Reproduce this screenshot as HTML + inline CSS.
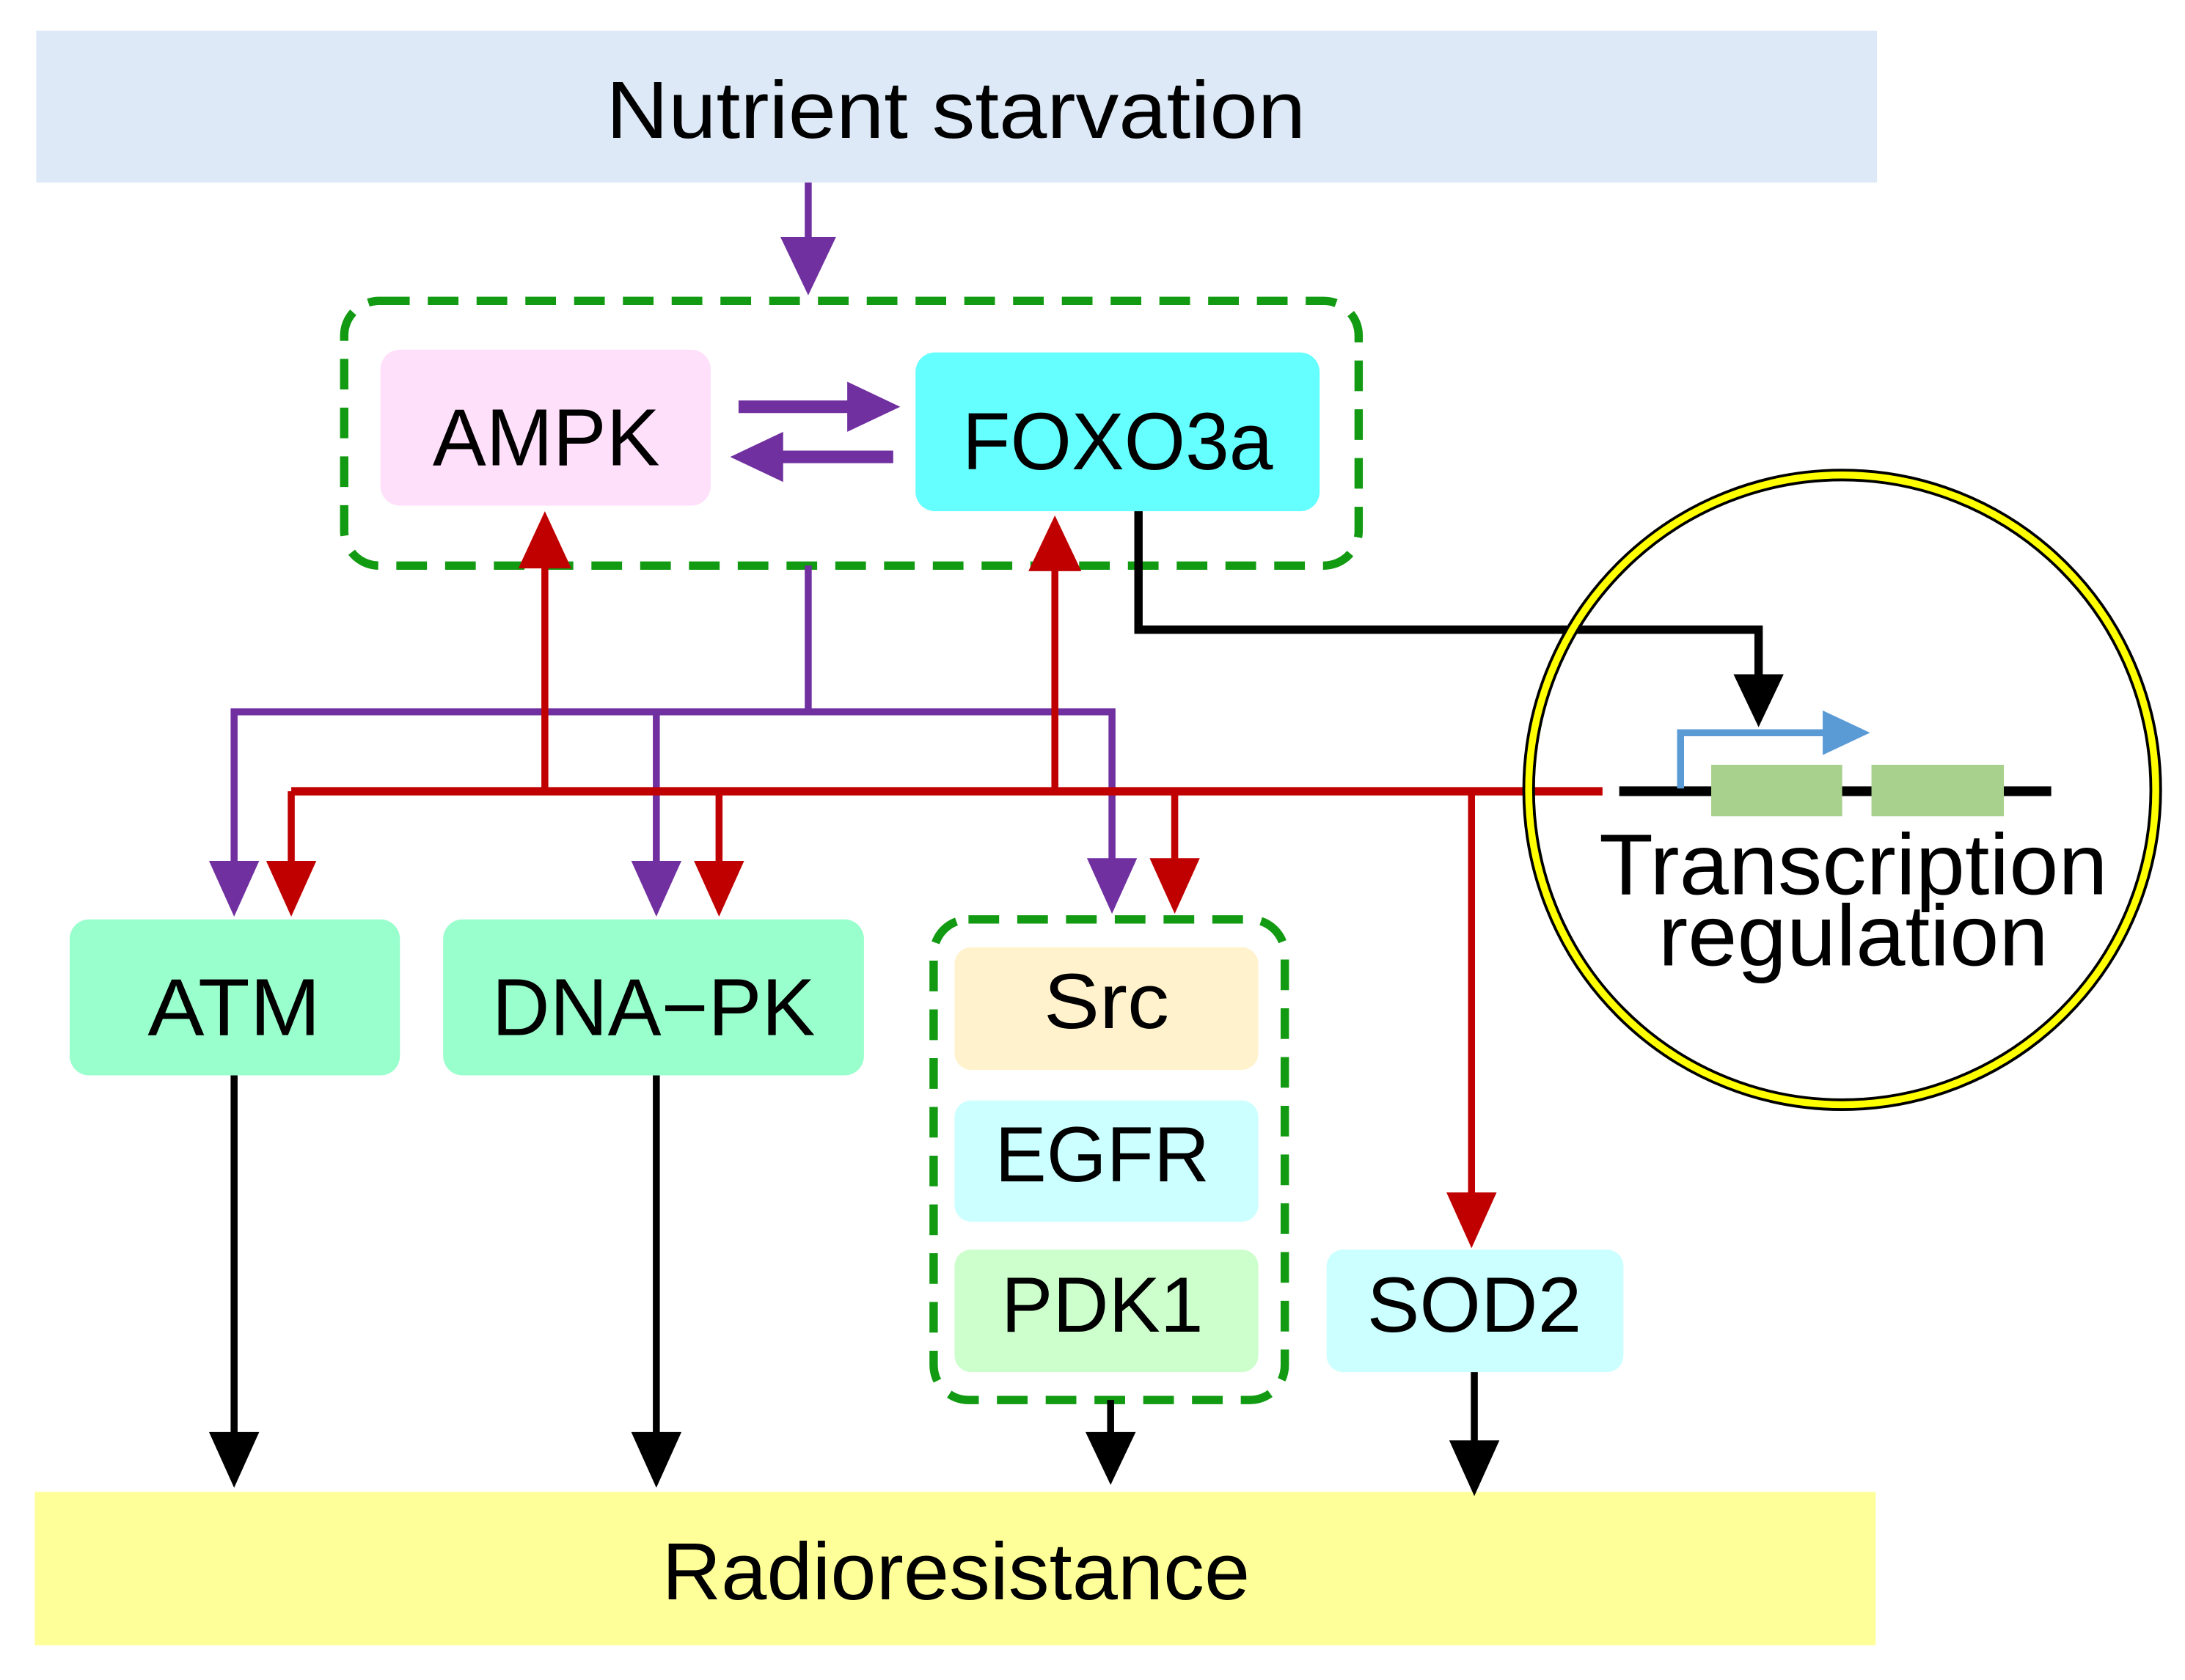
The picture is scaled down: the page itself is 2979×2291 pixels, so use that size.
<!DOCTYPE html>
<html><head><style>html,body{margin:0;padding:0;background:#fff}svg{display:block}</style></head>
<body>
<svg width="2979" height="2291" viewBox="0 0 1568 1206" preserveAspectRatio="none" xmlns="http://www.w3.org/2000/svg" font-family="Liberation Sans, sans-serif">
<rect x="26" y="22" width="1321" height="109" fill="#dde9f6"/>
<text x="686" y="99" font-size="58" text-anchor="middle" textLength="502" lengthAdjust="spacingAndGlyphs">Nutrient starvation</text>
<rect x="25" y="1071" width="1321" height="110" fill="#ffff99"/>
<text x="686" y="1148" font-size="58" text-anchor="middle" textLength="422" lengthAdjust="spacingAndGlyphs">Radioresistance</text>

<line x1="580" y1="131" x2="580" y2="175" stroke="#7030a0" stroke-width="5"/>
<polygon points="560,170 600,170 580,212" fill="#7030a0"/>

<rect x="247" y="216" width="728" height="190" rx="25" fill="none" stroke="#129a12" stroke-width="6" stroke-dasharray="22,13"/>
<rect x="273" y="251" width="237" height="112" rx="14" fill="#ffe0fa"/>
<text x="392" y="334" font-size="58" text-anchor="middle" textLength="163" lengthAdjust="spacingAndGlyphs">AMPK</text>
<rect x="657" y="253" width="290" height="114" rx="14" fill="#66ffff"/>
<text x="802" y="337" font-size="58" text-anchor="middle" textLength="223" lengthAdjust="spacingAndGlyphs">FOXO3a</text>
<line x1="530" y1="292" x2="612" y2="292" stroke="#7030a0" stroke-width="9"/>
<polygon points="608,274 646,292 608,310" fill="#7030a0"/>
<line x1="641" y1="328" x2="558" y2="328" stroke="#7030a0" stroke-width="9"/>
<polygon points="562,310 524,328 562,346" fill="#7030a0"/>

<polyline points="817,367 817,452 1262,452 1262,490" fill="none" stroke="#000" stroke-width="6"/>
<polygon points="1244,484 1280,484 1262,522" fill="#000"/>

<polyline points="580,406 580,511" fill="none" stroke="#7030a0" stroke-width="5"/>
<polyline points="168,625 168,511 798,511 798,625" fill="none" stroke="#7030a0" stroke-width="5"/>
<line x1="471" y1="511" x2="471" y2="625" stroke="#7030a0" stroke-width="5"/>
<polygon points="150,618 186,618 168,658" fill="#7030a0"/>
<polygon points="453,618 489,618 471,658" fill="#7030a0"/>
<polygon points="780,616 816,616 798,656" fill="#7030a0"/>

<line x1="209" y1="568" x2="1150" y2="568" stroke="#c00000" stroke-width="6"/>
<line x1="209" y1="568" x2="209" y2="625" stroke="#c00000" stroke-width="5"/>
<line x1="516" y1="568" x2="516" y2="625" stroke="#c00000" stroke-width="5"/>
<line x1="843" y1="568" x2="843" y2="625" stroke="#c00000" stroke-width="5"/>
<line x1="1056" y1="568" x2="1056" y2="862" stroke="#c00000" stroke-width="5"/>
<polygon points="191,618 227,618 209,658" fill="#c00000"/>
<polygon points="498,618 534,618 516,658" fill="#c00000"/>
<polygon points="825,616 861,616 843,656" fill="#c00000"/>
<polygon points="1038,856 1074,856 1056,896" fill="#c00000"/>
<line x1="391" y1="568" x2="391" y2="400" stroke="#c00000" stroke-width="5"/>
<polygon points="372,408 410,408 391,367" fill="#c00000"/>
<line x1="757" y1="568" x2="757" y2="400" stroke="#c00000" stroke-width="5"/>
<polygon points="738,410 776,410 757,370" fill="#c00000"/>

<ellipse cx="1322" cy="567" rx="225" ry="226" fill="none" stroke="#000" stroke-width="9"/>
<ellipse cx="1322" cy="567" rx="225" ry="226" fill="none" stroke="#ffff00" stroke-width="5"/>
<line x1="1162" y1="568" x2="1472" y2="568" stroke="#000" stroke-width="7"/>
<rect x="1228" y="549" width="94" height="37" fill="#a9d18e"/>
<rect x="1343" y="549" width="95" height="37" fill="#a9d18e"/>
<polyline points="1206,566 1206,526 1312,526" fill="none" stroke="#5b9bd5" stroke-width="5"/>
<polygon points="1308,510 1342,526 1308,542" fill="#5b9bd5"/>
<text x="1330" y="642" font-size="62" text-anchor="middle" textLength="365" lengthAdjust="spacingAndGlyphs">Transcription</text>
<text x="1330" y="693" font-size="62" text-anchor="middle" textLength="280" lengthAdjust="spacingAndGlyphs">regulation</text>

<rect x="50" y="660" width="237" height="112" rx="14" fill="#99ffcc"/>
<text x="168" y="743" font-size="58" text-anchor="middle" textLength="124" lengthAdjust="spacingAndGlyphs">ATM</text>
<rect x="318" y="660" width="302" height="112" rx="14" fill="#99ffcc"/>
<text x="469" y="743" font-size="58" text-anchor="middle" textLength="232" lengthAdjust="spacingAndGlyphs">DNA−PK</text>
<rect x="670" y="660" width="252" height="345" rx="25" fill="none" stroke="#129a12" stroke-width="6" stroke-dasharray="22,13"/>
<rect x="685" y="680" width="218" height="88" rx="12" fill="#fff2cc"/>
<text x="794" y="738" font-size="56" text-anchor="middle" textLength="90" lengthAdjust="spacingAndGlyphs">Src</text>
<rect x="685" y="790" width="218" height="87" rx="12" fill="#ccffff"/>
<text x="791" y="848" font-size="56" text-anchor="middle" textLength="154" lengthAdjust="spacingAndGlyphs">EGFR</text>
<rect x="685" y="897" width="218" height="88" rx="12" fill="#ccffcc"/>
<text x="791" y="956" font-size="56" text-anchor="middle" textLength="145" lengthAdjust="spacingAndGlyphs">PDK1</text>
<rect x="952" y="897" width="213" height="88" rx="12" fill="#ccffff"/>
<text x="1058" y="956" font-size="56" text-anchor="middle" textLength="154" lengthAdjust="spacingAndGlyphs">SOD2</text>

<line x1="168" y1="772" x2="168" y2="1035" stroke="#000" stroke-width="5"/>
<polygon points="150,1028 186,1028 168,1068" fill="#000"/>
<line x1="471" y1="772" x2="471" y2="1035" stroke="#000" stroke-width="5"/>
<polygon points="453,1028 489,1028 471,1068" fill="#000"/>
<line x1="797" y1="1005" x2="797" y2="1035" stroke="#000" stroke-width="5"/>
<polygon points="779,1028 815,1028 797,1066" fill="#000"/>
<line x1="1058" y1="985" x2="1058" y2="1040" stroke="#000" stroke-width="5"/>
<polygon points="1040,1034 1076,1034 1058,1074" fill="#000"/>
</svg>
</body></html>
